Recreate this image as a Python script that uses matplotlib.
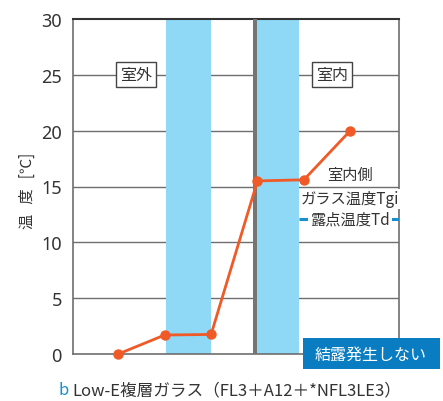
import matplotlib
matplotlib.use("Agg")
import matplotlib.pyplot as plt
from matplotlib.patches import Rectangle

plt.rcParams['font.family'] = ['Noto Sans CJK JP', 'DejaVu Sans']

# Data
positions = [1, 2, 3, 4, 5, 6]
temps = [0, 1.7, 1.75, 15.5, 15.6, 20]
yticks = [0, 5, 10, 15, 20, 25, 30]
dew_point = 12.1
glass1 = (2.03, 3.0)
glass2 = (4.0, 4.9)
wall = (3.9, 4.0)

W, H = 443, 402
fig = plt.figure(figsize=(W / 100, H / 100), dpi=100)
ax = fig.add_axes([73 / W, 1 - 355 / H, (399 - 73) / W, (355 - 20) / H])
ax.set_xlim(0.024, 7.05)
ax.set_ylim(0, 30)

# gridlines
for y in yticks[1:-1]:
    ax.axhline(y, color='#6e6e6e', lw=1.0, zorder=1)

# glass panes
ax.axvspan(*glass1, color='#8fd8f6', lw=0, zorder=2)
ax.axvspan(*glass2, color='#8fd8f6', lw=0, zorder=2)
ax.axvspan(*wall, color='#757575', lw=0, zorder=3)

# dew point line
ax.plot([glass2[1], 7.05], [dew_point, dew_point], color='#1a8fd0', lw=2.2, zorder=3,
        solid_capstyle='butt')

# temperature profile
ax.plot(positions, temps, color='#ef5a26', lw=2, marker='o', ms=6.5, zorder=5,
        clip_on=False)

# spines
for s in ['left', 'right', 'bottom']:
    ax.spines[s].set_color('#6e6e6e')
    ax.spines[s].set_linewidth(1.2)
ax.spines['top'].set_color('#333333')
ax.spines['top'].set_linewidth(1.5)

ax.set_xticks([])
ax.set_yticks(yticks)
ax.tick_params(axis='y', length=0, pad=8, labelsize=13, labelcolor='#333333')
for lab in ax.get_yticklabels():
    lab.set_fontfamily(['Noto Sans', 'DejaVu Sans'])

ax.set_ylabel('温   度   [℃]', fontsize=11, color='#333333')
ax.yaxis.set_label_coords(-0.115, 0.49)

box = dict(boxstyle='square,pad=0.25', fc='white', ec='#444444', lw=1)
ax.text(1.38, 25, '室外', ha='center', va='center', fontsize=11.5, color='#333333',
        bbox=box, zorder=6)
ax.text(5.6, 25, '室内', ha='center', va='center', fontsize=11.5, color='#333333',
        bbox=box, zorder=6)

ax.text(6.0, 16.1, '室内側', ha='center', va='center', fontsize=11, color='#333333',
        zorder=6)
ax.text(6.0, 13.9, 'ガラス温度Tgi', ha='center', va='center', fontsize=11,
        color='#333333', zorder=6,
        bbox=dict(boxstyle='square,pad=0.1', fc='white', ec='none'))
ax.text(6.0, 12.1, '露点温度Td', ha='center', va='center', fontsize=11,
        color='#333333', zorder=6,
        bbox=dict(boxstyle='square,pad=0.15', fc='white', ec='none'))

# condensation box
fig.add_artist(Rectangle((303 / W, 1 - 370 / H), (440 - 303) / W, 31 / H,
                         transform=fig.transFigure, fc='#0a7dc2', ec='none',
                         zorder=10))
fig.text(371 / W, 1 - 355 / H, '結露発生しない', ha='center', va='center',
         fontsize=11.5, color='white', zorder=11)

# caption
fig.text(59 / W, 1 - 391 / H, 'b', ha='left', va='center', fontsize=12,
         color='#1a8fd0')
fig.text(72 / W, 1 - 391 / H, 'Low-E複層ガラス（FL3＋A12＋*NFL3LE3）', ha='left',
         va='center', fontsize=12, color='#333333')

fig.savefig('out.png', dpi=100)
